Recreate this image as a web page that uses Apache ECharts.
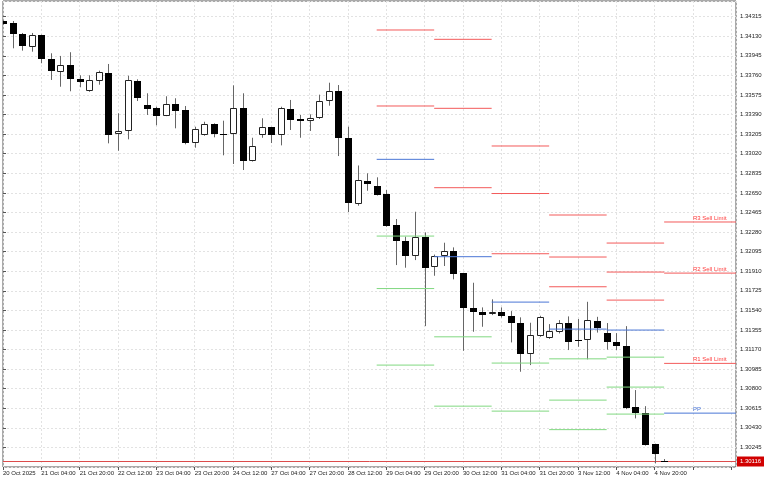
<!DOCTYPE html>
<html>
<head>
<meta charset="utf-8">
<script src="https://cdn.jsdelivr.net/npm/echarts@6/dist/echarts.min.js"></script>
<style>
html, body { margin: 0; padding: 0; background: #fff; }
#chart { width: 768px; height: 480px; }
</style>
</head>
<body>
<div id="chart"></div>
<script>
// H4 bars, 20 Oct 12:00 .. 5 Nov 00:00 (bar index = x value)
const timeLabels = ['20 Oct 2025', '21 Oct 04:00', '21 Oct 20:00', '22 Oct 12:00', '23 Oct 04:00', '23 Oct 20:00',
  '24 Oct 12:00', '27 Oct 04:00', '27 Oct 20:00', '28 Oct 12:00', '29 Oct 04:00', '29 Oct 20:00',
  '30 Oct 12:00', '31 Oct 04:00', '31 Oct 20:00', '3 Nov 12:00', '4 Nov 04:00', '4 Nov 20:00']

const open = [1.34274, 1.34258, 1.34151, 1.34029, 1.34139, 1.33915, 1.33789, 1.33858, 1.33729, 1.33610,
  1.33704, 1.33786, 1.33203, 1.33235, 1.33707, 1.33478, 1.33452, 1.33379, 1.33490, 1.33433,
  1.33118, 1.33194, 1.33298, 1.33206, 1.33203, 1.33449, 1.32951, 1.33194, 1.33270, 1.33194,
  1.33445, 1.33345, 1.33329, 1.33360, 1.33515, 1.33616, 1.33168, 1.32545, 1.32765, 1.32715,
  1.32636, 1.32346, 1.32195, 1.32053, 1.32230, 1.31946, 1.32056, 1.32098, 1.31890, 1.31564,
  1.31524, 1.31502, 1.31529, 1.31489, 1.31425, 1.31124, 1.31300, 1.31275, 1.31338, 1.31417,
  1.31262, 1.31256, 1.31442, 1.31322, 1.31240, 1.31205, 1.30623, 1.30566, 1.30276, 1.30116]
const high = [1.34280, 1.34274, 1.34161, 1.34161, 1.34145, 1.33969, 1.33944, 1.33979, 1.33761, 1.33761,
  1.33805, 1.33868, 1.33402, 1.33757, 1.33723, 1.33591, 1.33464, 1.33563, 1.33544, 1.33471,
  1.33275, 1.33322, 1.33307, 1.33332, 1.33666, 1.33591, 1.33171, 1.33355, 1.33274, 1.33464,
  1.33528, 1.33386, 1.33392, 1.33578, 1.33691, 1.33669, 1.33275, 1.32909, 1.32835, 1.32797,
  1.32677, 1.32403, 1.32236, 1.32472, 1.32277, 1.32067, 1.32179, 1.32135, 1.31895, 1.31801,
  1.31568, 1.31644, 1.31568, 1.31533, 1.31474, 1.31423, 1.31489, 1.31410, 1.31448, 1.31483,
  1.31458, 1.31621, 1.31479, 1.31420, 1.31325, 1.31391, 1.30787, 1.30635, 1.30280, 1.30135]
const low = [1.34240, 1.34016, 1.33994, 1.33984, 1.33875, 1.33717, 1.33653, 1.33610, 1.33648, 1.33605,
  1.33672, 1.33118, 1.33048, 1.33156, 1.33518, 1.33386, 1.33289, 1.33375, 1.33260, 1.33109,
  1.33077, 1.33190, 1.33175, 1.33005, 1.32923, 1.32866, 1.32946, 1.33171, 1.33121, 1.33099,
  1.33244, 1.33171, 1.33235, 1.33348, 1.33474, 1.32998, 1.32469, 1.32529, 1.32670, 1.32625,
  1.32330, 1.31968, 1.31943, 1.32015, 1.31391, 1.31867, 1.31959, 1.31833, 1.31158, 1.31338,
  1.31385, 1.31495, 1.31472, 1.31237, 1.30960, 1.31023, 1.31290, 1.31270, 1.31322, 1.31165,
  1.31196, 1.31077, 1.31330, 1.31169, 1.31165, 1.30607, 1.30519, 1.30262, 1.30094, 1.30116]
const close = [1.34249, 1.34154, 1.34035, 1.34139, 1.33915, 1.33799, 1.33858, 1.33726, 1.33695, 1.33714,
  1.33789, 1.33200, 1.33237, 1.33714, 1.33544, 1.33443, 1.33379, 1.33487, 1.33427, 1.33118,
  1.33251, 1.33298, 1.33206, 1.33203, 1.33449, 1.32954, 1.33093, 1.33270, 1.33197, 1.33449,
  1.33341, 1.33332, 1.33355, 1.33518, 1.33616, 1.33166, 1.32551, 1.32767, 1.32734, 1.32633,
  1.32340, 1.32195, 1.32053, 1.32236, 1.31940, 1.32056, 1.32098, 1.31880, 1.31559, 1.31521,
  1.31493, 1.31529, 1.31489, 1.31425, 1.31127, 1.31306, 1.31479, 1.31344, 1.31417, 1.31243,
  1.31247, 1.31448, 1.31375, 1.31240, 1.31202, 1.30614, 1.30566, 1.30267, 1.30182, 1.30116]

const bid = 1.30116

// daily pivot levels, each day starts at its 00:00 bar
const pivotDays = ['29 Oct', '30 Oct', '31 Oct', '3 Nov', '4 Nov', '5 Nov']
const pivotStart = [39, 45, 51, 57, 63, 69]
const levelNames = ['R3', 'R2', 'R1', 'PP', 'S1', 'S2', 'S3']
const r3 = [null, 1.34101, 1.33093, 1.32441, 1.32176, 1.32375]
const r2 = [1.34189, 1.33449, 1.32644, 1.32044, 1.31902, 1.31892]
const r1 = [1.33471, 1.32699, 1.32075, 1.31763, 1.31637, 1.31039]
const pp = [1.32967, 1.32047, 1.31618, 1.31363, 1.31354, 1.30569]
const s1 = [1.32242, 1.31290, 1.31042, 1.31082, 1.31098, null]
const s2 = [1.31746, 1.30635, 1.30588, 1.30692, 1.30815, null]
const s3 = [1.31023, null, null, 1.30413, 1.30560, null]

// axis setup: prices are shown relative to BASE so ticks start at 0
const BASE = 1.30060
const Y_STEP = 0.00185
const Y_TOP = 1.34463
const X_MAX = 76.5

const FONT = '"Liberation Sans", Arial, sans-serif'
const RED = '#f35a5a'
const BLUE = '#4a76d6'
const GREEN = '#80d880'

const chart = echarts.init(document.getElementById('chart'))

const candleData = open.map((o, i) => [i, o - BASE, close[i] - BASE, low[i] - BASE, high[i] - BASE])

const levels = [r3, r2, r1, pp, s1, s2, s3]
const pivotData = []
pivotStart.forEach((start, d) => {
  const end = d + 1 < pivotStart.length ? pivotStart[d + 1] : X_MAX
  levels.forEach((arr, k) => {
    if (arr[d] != null) pivotData.push([start, end, arr[d] - BASE, k, d])
  })
})

function renderCandle(params, api) {
  const i = api.value(0)
  const o = api.value(1), c = api.value(2), l = api.value(3), h = api.value(4)
  const po = api.coord([i, o]), pc = api.coord([i, c])
  const pl = api.coord([i, l]), ph = api.coord([i, h])
  const cx = Math.round(po[0])
  const top = Math.round(Math.min(po[1], pc[1]))
  const bot = Math.round(Math.max(po[1], pc[1]))
  const bull = c > o
  const body = bull
    ? { type: 'rect', shape: { x: cx - 2.5, y: top + 0.5, width: 6, height: Math.max(bot - top - 1, 0) },
        style: { fill: '#fff', stroke: '#222', lineWidth: 1 } }
    : { type: 'rect', shape: { x: cx - 3, y: top, width: 7, height: Math.max(bot - top, 1) },
        style: { fill: '#000' } }
  return {
    type: 'group',
    children: [
      { type: 'line', shape: { x1: cx + 0.5, y1: ph[1], x2: cx + 0.5, y2: pl[1] }, style: { stroke: '#666', lineWidth: 1 } },
      body
    ]
  }
}

function renderPivot(params, api) {
  const k = api.value(3), d = api.value(4)
  const a = api.coord([api.value(0), api.value(2)])
  const b = api.coord([api.value(1), api.value(2)])
  const color = k < 3 ? RED : (k === 3 ? BLUE : GREEN)
  const children = [
    { type: 'line', shape: { x1: a[0], y1: a[1], x2: b[0], y2: b[1] }, style: { stroke: color, lineWidth: 1 } }
  ]
  if (d === pivotDays.length - 1) {
    const name = levelNames[k]
    const txt = k < 3 ? name + ' Sell Limit' : (k > 3 ? name + ' Buy Limit' : name)
    const t = api.coord([api.value(0) + 3, api.value(2)])
    children.push({
      type: 'text',
      style: { text: txt, x: t[0], y: a[1] - 1, fill: k < 3 ? '#ff3b3b' : BLUE,
        font: '6px ' + FONT, align: 'left', verticalAlign: 'bottom' }
    })
  }
  return { type: 'group', children }
}

function renderBid(params, api) {
  const cs = params.coordSys
  const p = api.coord([0, api.value(1)])
  const y = Math.round(p[1]) + 0.5
  return {
    type: 'group',
    children: [
      { type: 'line', shape: { x1: cs.x, y1: y, x2: cs.x + cs.width, y2: y }, style: { stroke: '#dc4c4c', lineWidth: 1 } },
      { type: 'rect', shape: { x: cs.x + cs.width + 1, y: y - 5, width: 27, height: 10 }, style: { fill: '#d10000' } },
      { type: 'text', style: { text: bid.toFixed(5), x: cs.x + cs.width + 14.5, y: y, fill: '#fff',
        font: '6px ' + FONT, align: 'center', verticalAlign: 'middle' } }
    ]
  }
}

const option = {
  backgroundColor: '#fff',
  animation: false,
  grid: { left: 1, right: 32, top: 1, bottom: 13, show: true, borderColor: '#555', borderWidth: 1 },
  xAxis: {
    type: 'value',
    min: 0,
    max: X_MAX,
    interval: 4,
    axisLine: { show: false },
    axisTick: { show: true, length: 3, lineStyle: { color: '#555' } },
    axisLabel: {
      color: '#222', fontSize: 6, fontFamily: FONT, align: 'left', margin: 3,
      showMaxLabel: false,
      formatter: v => {
        const k = Math.round(v / 4)
        return Math.abs(v - k * 4) < 1e-6 && timeLabels[k] ? timeLabels[k] : ''
      }
    },
    splitLine: { show: true, lineStyle: { color: '#e2e2e2', type: [2, 2] } }
  },
  yAxis: {
    type: 'value',
    position: 'right',
    min: 0,
    max: Y_TOP - BASE,
    interval: Y_STEP,
    axisLine: { show: false },
    axisTick: { show: true, length: 3, lineStyle: { color: '#555' } },
    axisLabel: {
      color: '#222', fontSize: 6, fontFamily: FONT, margin: 4,
      showMinLabel: false, showMaxLabel: false,
      formatter: v => (v + BASE).toFixed(5)
    },
    splitLine: { show: true, lineStyle: { color: '#e2e2e2', type: [2, 2] } }
  },
  series: [
    {
      type: 'custom',
      name: 'bid',
      renderItem: renderBid,
      data: [[0, bid - BASE]],
      encode: { x: 0, y: 1 },
      clip: false,
      silent: true,
      z: 1
    },
    {
      type: 'custom',
      name: 'candles',
      renderItem: renderCandle,
      data: candleData,
      encode: { x: 0, y: [1, 2, 3, 4] },
      clip: true,
      silent: true,
      z: 2
    },
    {
      type: 'custom',
      name: 'pivots',
      renderItem: renderPivot,
      data: pivotData,
      encode: { x: [0, 1], y: 2 },
      silent: true,
      z: 3
    }
  ]
}

chart.setOption(option)
</script>
</body>
</html>
